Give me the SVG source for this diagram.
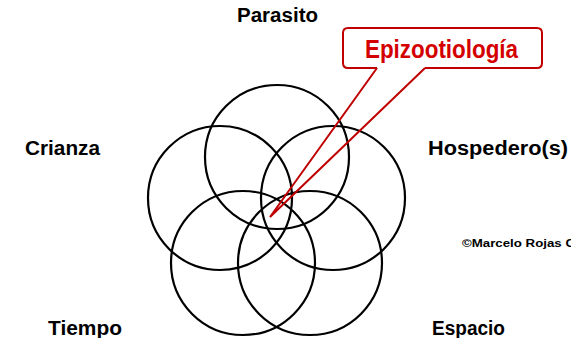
<svg xmlns="http://www.w3.org/2000/svg" width="571" height="338" viewBox="0 0 571 338">
  <style>
    .ring { fill: none; stroke: #000; stroke-width: 2.2; }
    .lbl { font-family: "Liberation Sans", Arial, sans-serif; font-weight: bold; font-size: 19.5px; fill: #000; }
    .red { fill: none; stroke: #c00000; stroke-width: 2; stroke-linejoin: miter; }
    .title { font-family: "Liberation Sans", Arial, sans-serif; font-weight: bold; font-size: 25px; fill: #d40000; }
    .copy { font-family: "Liberation Sans", Arial, sans-serif; font-weight: bold; font-size: 11.5px; fill: #000; }
  </style>
  <rect width="571" height="338" fill="#fff"/>
  <g id="parasito">
    <circle class="ring" cx="277" cy="157" r="72"/>
    <text class="lbl" x="237" y="22" textLength="81" lengthAdjust="spacingAndGlyphs">Parasito</text>
  </g>
  <g id="crianza">
    <circle class="ring" cx="220" cy="198" r="72"/>
    <text class="lbl" x="25" y="155" textLength="75" lengthAdjust="spacingAndGlyphs">Crianza</text>
  </g>
  <g id="hospedero">
    <circle class="ring" cx="333" cy="198" r="72"/>
    <text class="lbl" x="428" y="155" textLength="140" lengthAdjust="spacingAndGlyphs">Hospedero(s)</text>
  </g>
  <g id="tiempo">
    <circle class="ring" cx="243" cy="263" r="72"/>
    <text class="lbl" x="48" y="335" textLength="74" lengthAdjust="spacingAndGlyphs">Tiempo</text>
  </g>
  <g id="espacio">
    <circle class="ring" cx="310" cy="263" r="72"/>
    <text class="lbl" x="432" y="335" textLength="73" lengthAdjust="spacingAndGlyphs">Espacio</text>
  </g>
  <g id="epizootiologia">
    <path class="red" d="M 377,68 H 348 Q 343,68 343,63 V 33 Q 343,28 348,28 H 537 Q 542,28 542,33 V 63 Q 542,68 537,68 H 425"/>
    <text class="title" x="365" y="58" textLength="153" lengthAdjust="spacingAndGlyphs">Epizootiología</text>
  </g>
  <g id="connectors">
    <polyline class="red" points="377,68 270,217 425,68"/>
  </g>
  <g id="credit">
    <text class="copy" x="462" y="247" textLength="113" lengthAdjust="spacingAndGlyphs">©Marcelo Rojas C</text>
  </g>
</svg>
